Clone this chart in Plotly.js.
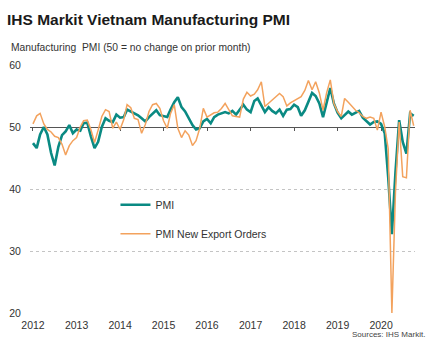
<!DOCTYPE html>
<html><head><meta charset="utf-8">
<script src="https://cdn.plot.ly/plotly-3.0.1.min.js"></script>
<style>html,body{margin:0;padding:0;background:#fff}#chart{width:439px;height:354px}</style>
</head><body><div id="chart"></div>
<script>
// Monthly data, January 2012 to October 2020
const years = [2012, 2013, 2014, 2015, 2016, 2017, 2018, 2019, 2020];
const yearLabels = ["2012", "2013", "2014", "2015", "2016", "2017", "2018", "2019", "2020"];

const pmi2012 = [47.4, 46.6, 48.8, 50.0, 48.8, 45.8, 43.8, 46.8, 48.7, 49.3, 50.3, 49.0];
const pmi2013 = [49.6, 49.4, 50.6, 50.7, 48.5, 46.6, 47.6, 50.0, 51.4, 51.0, 50.8, 52.0];
const pmi2014 = [51.5, 51.6, 52.8, 52.5, 52.2, 51.9, 51.4, 50.9, 51.6, 52.1, 52.7, 51.9];
const pmi2015 = [51.7, 51.6, 52.8, 54.0, 54.8, 53.2, 52.5, 51.5, 50.3, 49.6, 49.8, 50.9];
const pmi2016 = [51.3, 50.6, 51.6, 52.0, 52.2, 52.4, 52.2, 52.6, 52.0, 52.8, 53.6, 52.8];
const pmi2017 = [52.4, 54.2, 54.6, 53.5, 52.4, 53.2, 52.6, 52.2, 52.8, 51.8, 52.8, 52.9];
const pmi2018 = [53.6, 53.2, 51.8, 52.7, 54.0, 55.5, 55.0, 53.8, 51.6, 54.0, 56.3, 53.8];
const pmi2019 = [52.3, 51.4, 51.9, 52.5, 52.0, 52.3, 52.6, 51.5, 50.9, 50.4, 50.8, 50.9];
const pmi2020 = [50.5, 49.0, 41.9, 32.7, 42.7, 51.1, 47.6, 45.7, 52.2, 51.8];

const exp2012 = [50.5, 51.8, 52.2, 50.5, 49.6, 49.2, 48.5, 48.3, 47.2, 45.5, 47.0, 47.8];
const exp2013 = [48.3, 50.0, 51.0, 51.1, 49.6, 47.5, 49.5, 51.7, 52.8, 52.5, 49.8, 50.8];
const exp2014 = [49.6, 51.2, 53.6, 53.1, 51.4, 51.2, 49.0, 50.4, 52.5, 53.6, 53.8, 53.0];
const exp2015 = [51.0, 49.8, 52.2, 53.6, 49.8, 48.3, 49.4, 48.7, 47.0, 47.8, 49.8, 53.0];
const exp2016 = [51.6, 52.0, 52.3, 52.4, 53.0, 53.8, 52.8, 51.8, 51.7, 51.6, 54.5, 55.6];
const exp2017 = [55.0, 55.3, 56.0, 57.3, 53.3, 53.8, 54.4, 54.9, 55.4, 54.9, 53.4, 53.9];
const exp2018 = [54.2, 54.5, 54.9, 55.9, 57.5, 56.0, 57.3, 55.5, 52.7, 55.5, 57.6, 53.8];
const exp2019 = [52.5, 51.7, 54.6, 54.0, 53.3, 52.7, 52.3, 51.7, 51.4, 51.6, 51.4, 49.5];
const exp2020 = [52.4, 50.0, 46.5, 20.0, 39.5, 50.8, 42.0, 41.8, 52.7, 50.2];

const pmiByYear = [pmi2012, pmi2013, pmi2014, pmi2015, pmi2016, pmi2017, pmi2018, pmi2019, pmi2020];
const expByYear = [exp2012, exp2013, exp2014, exp2015, exp2016, exp2017, exp2018, exp2019, exp2020];

function monthDates(yearArr, seriesByYear) {
  const out = [];
  yearArr.forEach((y, i) => {
    seriesByYear[i].forEach((_, m) => {
      out.push(y + "-" + String(m + 1).padStart(2, "0") + "-01");
    });
  });
  return out;
}
const dates = monthDates(years, pmiByYear);
const pmi = [].concat(...pmiByYear);
const exportOrders = [].concat(...expByYear);
const yearTicks = years.map(y => y + "-01-01");

const FONT = "Arial, 'Liberation Sans', sans-serif";
const TEAL = "#0a8a83";
const ORANGE = "#f3a25d";

const traces = [
  {x: dates, y: pmi, type: "scatter", mode: "lines", name: "PMI",
   line: {color: TEAL, width: 2.6}, legendgroup: "a", hoverinfo: "skip"},
  {x: dates, y: exportOrders, type: "scatter", mode: "lines", name: "PMI New Export Orders",
   line: {color: ORANGE, width: 1.5}, legendgroup: "b", hoverinfo: "skip"},
  {x: [], y: [], xaxis: "x2", yaxis: "y", showlegend: false, hoverinfo: "skip", type: "scatter"}
];

const xRange = ["2011-12-07", "2020-10-12"];

const layout = {
  width: 439, height: 354,
  margin: {l: 30, r: 24, t: 65, b: 41},
  paper_bgcolor: "#fff", plot_bgcolor: "#fff",
  font: {family: FONT, color: "#333", size: 10.5},
  title: {
    text: "IHS Markit Vietnam Manufacturing PMI",
    font: {family: FONT, size: 15.5, color: "#1a1a1a", weight: "bold"},
    xref: "container", x: 7 / 439, xanchor: "left",
    yref: "container", y: 1 - 20 / 354, yanchor: "middle"
  },
  xaxis: {
    type: "date", range: xRange, anchor: "free", position: 0.75,
    showline: true, linecolor: "#555", linewidth: 1,
    ticks: "outside", ticklen: 3, tickcolor: "#555", tickwidth: 1,
    tickvals: yearTicks, showticklabels: false,
    showgrid: false, zeroline: false, layer: "below traces", fixedrange: true
  },
  xaxis2: {
    type: "date", range: xRange, overlaying: "x", anchor: "y", side: "bottom",
    tickvals: yearTicks, ticktext: yearLabels,
    ticks: "outside", ticklen: 2, tickcolor: "rgba(0,0,0,0)",
    tickfont: {size: 10.5, color: "#333"},
    showline: false, showgrid: false, zeroline: false, fixedrange: true
  },
  yaxis: {
    range: [20, 60], tickvals: [20, 30, 40, 50, 60],
    showgrid: true, gridcolor: "#c4c4c4", griddash: "dot", gridwidth: 1,
    zeroline: false, showline: false,
    ticks: "outside", ticklen: 6, tickcolor: "rgba(0,0,0,0)",
    tickfont: {size: 10.5, color: "#333"}, fixedrange: true
  },
  showlegend: true,
  legend: {
    x: 0.222, y: 0.495, xanchor: "left", yanchor: "top",
    bgcolor: "rgba(0,0,0,0)", borderwidth: 0,
    traceorder: "grouped", tracegroupgap: 10,
    font: {size: 10.5, color: "#333"}
  },
  annotations: [
    {text: "Manufacturing  PMI (50 = no change on prior month)", xref: "paper", yref: "paper",
     x: (9 - 30) / 385, y: (313 - 48) / 248, xanchor: "left", yanchor: "middle",
     showarrow: false, font: {size: 10.3, color: "#333"}},
    {text: "Sources: IHS Markit.", xref: "paper", yref: "paper",
     x: (427 - 30) / 385, y: (313 - 334) / 248, xanchor: "right", yanchor: "middle",
     showarrow: false, font: {size: 8, color: "#444"}}
  ]
};

Plotly.newPlot("chart", traces, layout, {staticPlot: true, displayModeBar: false});
</script>
</body></html>
